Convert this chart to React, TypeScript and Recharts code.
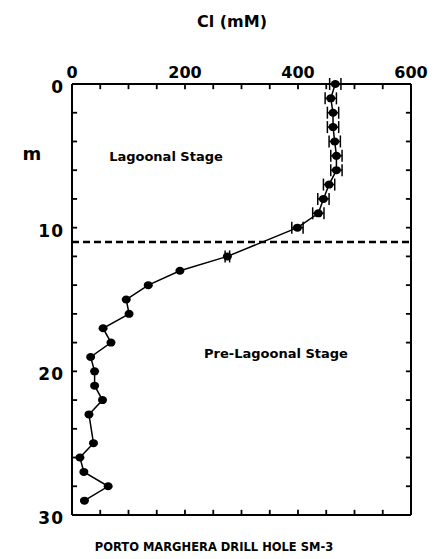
import React from 'react';
import { ScatterChart, Scatter, XAxis, YAxis, ErrorBar, ReferenceLine } from 'recharts';

const depthM = [0, 1, 2, 3, 4, 5, 6, 7, 8, 9, 10, 12, 13, 14, 15, 16, 17, 18, 19, 20, 21, 22, 23, 25, 26, 27, 28, 29];
const chlorideMM = [466, 458, 462, 462, 465, 468, 468, 455, 445, 436, 399, 275, 191, 135, 96, 101, 55, 69, 33, 40, 40, 54, 30, 38, 14, 21, 64, 22];
const errorMM = [10, 10, 10, 10, 10, 10, 10, 10, 10, 10, 10, 4, 0, 0, 0, 0, 0, 0, 0, 0, 0, 0, 0, 0, 0, 0, 0, 0];

const xTicks = [0, 50, 100, 150, 200, 250, 300, 350, 400, 450, 500, 550, 600];
const yTicks = [0, 2, 4, 6, 8, 10, 12, 14, 16, 18, 20, 22, 24, 26, 28, 30];
const xLabelTicks = [0, 200, 400, 600];
const yLabelTicks = [0, 10, 20, 30];
const boundaryDepth = 11;

const X_MIN = 0;
const X_MAX = 600;
const Y_MIN = 0;
const Y_MAX = 30;
// inward tick-mark lengths in data units (~5 px)
const X_TICK_LEN = 0.36;
const Y_TICK_LEN = 9;

const data = depthM.map((d, i) => ({ depth: d, cl: chlorideMM[i], err: errorMM[i] }));

const FONT = '"DejaVu Sans", sans-serif';
const AXIS_LINE = { stroke: '#000', strokeWidth: 2 };

const TopTick = (props: any) => {
  const { x, y, payload } = props;
  const v = payload.value;
  if (!xLabelTicks.includes(v)) return <g />;
  return (
    <text x={x} y={y - 6} textAnchor="middle" fontFamily={FONT} fontSize={16} fontWeight="bold" fill="#000">
      {v}
    </text>
  );
};

const LeftTick = (props: any) => {
  const { x, y, payload } = props;
  const v = payload.value;
  if (!yLabelTicks.includes(v)) return <g />;
  return (
    <text x={x - 8} y={y + 9} textAnchor="end" fontFamily={FONT} fontSize={17} fontWeight="bold" fill="#000" letterSpacing={1}>
      {v}
    </text>
  );
};

const NoLabel = () => <g />;

const Dot = (props: any) => {
  const { cx, cy } = props;
  return <ellipse cx={cx} cy={cy} rx={4.5} ry={4} fill="#000" />;
};

const innerX = xTicks.filter((v) => v > X_MIN && v < X_MAX);
const innerY = yTicks.filter((v) => v > Y_MIN && v < Y_MAX);

export default function App() {
  return (
    <div style={{ position: 'absolute', left: 0, top: 0, width: 435, height: 559 }}>
      <ScatterChart width={435} height={559} margin={{ top: 0, right: 23, bottom: 43, left: 0 }}>
        <XAxis
          type="number"
          dataKey="cl"
          orientation="top"
          domain={[X_MIN, X_MAX]}
          ticks={xTicks}
          interval={0}
          height={84}
          tickSize={0}
          tickMargin={0}
          tickLine={false}
          axisLine={AXIS_LINE}
          tick={<TopTick />}
        />
        <XAxis
          xAxisId="b"
          type="number"
          orientation="bottom"
          domain={[X_MIN, X_MAX]}
          ticks={xTicks}
          interval={0}
          height={1}
          tickSize={0}
          tickMargin={0}
          tickLine={false}
          axisLine={AXIS_LINE}
          tick={<NoLabel />}
        />
        <YAxis
          type="number"
          dataKey="depth"
          domain={[Y_MIN, Y_MAX]}
          reversed
          ticks={yTicks}
          interval={0}
          width={72}
          tickSize={0}
          tickMargin={0}
          tickLine={false}
          axisLine={AXIS_LINE}
          tick={<LeftTick />}
        />
        <YAxis
          yAxisId="r"
          type="number"
          orientation="right"
          domain={[Y_MIN, Y_MAX]}
          reversed
          ticks={yTicks}
          interval={0}
          width={1}
          tickSize={0}
          tickMargin={0}
          tickLine={false}
          axisLine={AXIS_LINE}
          tick={<NoLabel />}
        />
        {innerX.map((v) => (
          <ReferenceLine
            key={`tt${v}`}
            segment={[{ x: v, y: Y_MIN }, { x: v, y: Y_MIN + X_TICK_LEN }]}
            stroke="#000"
            strokeWidth={1.8}
          />
        ))}
        {innerX.map((v) => (
          <ReferenceLine
            key={`bt${v}`}
            segment={[{ x: v, y: Y_MAX }, { x: v, y: Y_MAX - X_TICK_LEN }]}
            stroke="#000"
            strokeWidth={1.8}
          />
        ))}
        {innerY.map((v) => (
          <ReferenceLine
            key={`lt${v}`}
            segment={[{ x: X_MIN, y: v }, { x: X_MIN + Y_TICK_LEN, y: v }]}
            stroke="#000"
            strokeWidth={1.8}
          />
        ))}
        {innerY.map((v) => (
          <ReferenceLine
            key={`rt${v}`}
            segment={[{ x: X_MAX, y: v }, { x: X_MAX - Y_TICK_LEN, y: v }]}
            stroke="#000"
            strokeWidth={1.8}
          />
        ))}
        <ReferenceLine y={boundaryDepth} stroke="#000" strokeWidth={2.5} strokeDasharray="7 4" />
        <Scatter
          data={data}
          line={{ stroke: '#000', strokeWidth: 1.5 }}
          lineType="joint"
          shape={<Dot />}
          isAnimationActive={false}
        >
          <ErrorBar dataKey="err" direction="x" width={6} stroke="#000" strokeWidth={1.5} />
        </Scatter>
      </ScatterChart>
      <svg width={435} height={559} style={{ position: 'absolute', left: 0, top: 0, pointerEvents: 'none' }}>
        <text x={232} y={27} textAnchor="middle" fontFamily={FONT} fontSize={16} fontWeight="bold" fill="#000">
          Cl (mM)
        </text>
        <text x={32} y={160} textAnchor="middle" fontFamily={FONT} fontSize={18} fontWeight="bold" fill="#000">
          m
        </text>
        <text x={166} y={161} textAnchor="middle" fontFamily={FONT} fontSize={13} fontWeight="bold" fill="#000">
          Lagoonal Stage
        </text>
        <text x={276} y={358} textAnchor="middle" fontFamily={FONT} fontSize={13} fontWeight="bold" fill="#000">
          Pre-Lagoonal Stage
        </text>
        <text x={214} y={551} textAnchor="middle" fontFamily={FONT} fontSize={11.5} fontWeight="bold" fill="#000">
          PORTO MARGHERA DRILL HOLE SM-3
        </text>
      </svg>
    </div>
  );
}
